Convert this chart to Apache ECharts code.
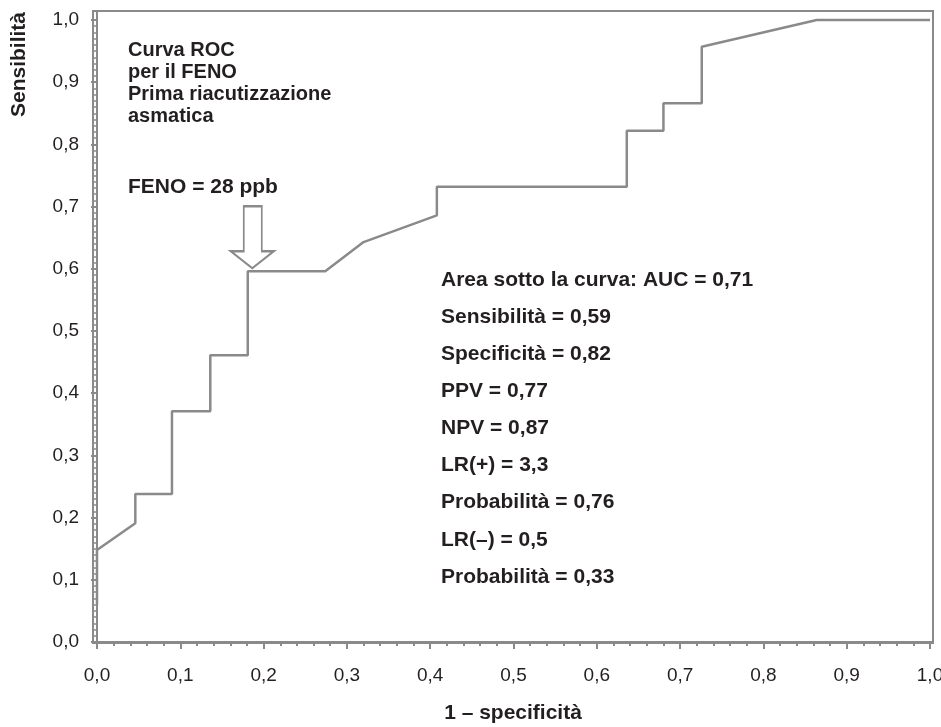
<!DOCTYPE html>
<html>
<head>
<meta charset="utf-8">
<script src="https://cdn.jsdelivr.net/npm/echarts@6/dist/echarts.min.js"></script>
<style>
  html, body { margin: 0; padding: 0; background: #fff; }
  #chart { width: 941px; height: 727px; }
</style>
</head>
<body>
<div id="chart"></div>
<script>
// punti della curva ROC (1 - specificità, sensibilità)
const fprX = [0, 0, 0.046, 0.046, 0.090, 0.090, 0.136, 0.136, 0.181, 0.181, 0.274, 0.320, 0.408, 0.408, 0.636, 0.636, 0.680, 0.680, 0.726, 0.726, 0.864, 1.0];
const tprY = [0.06, 0.148, 0.191, 0.238, 0.238, 0.371, 0.371, 0.461, 0.461, 0.596, 0.596, 0.643, 0.686, 0.732, 0.732, 0.822, 0.822, 0.866, 0.866, 0.957, 1.0, 1.0];

// tick principali
const xTicks = [0, 0.1, 0.2, 0.3, 0.4, 0.5, 0.6, 0.7, 0.8, 0.9, 1.0];
const yTicks = [0, 0.1, 0.2, 0.3, 0.4, 0.5, 0.6, 0.7, 0.8, 0.9, 1.0];

// punto di cut-off indicato dalla freccia
const cutoff = [0.1864, 0.601];

const titleLines = ['Curva ROC', 'per il FENO', 'Prima riacutizzazione', 'asmatica'];
const cutoffLabel = 'FENO = 28 ppb';
const statLines = [
  'Area sotto la curva: AUC = 0,71',
  'Sensibilità = 0,59',
  'Specificità = 0,82',
  'PPV = 0,77',
  'NPV = 0,87',
  'LR(+) = 3,3',
  'Probabilità = 0,76',
  'LR(–) = 0,5',
  'Probabilità = 0,33'
];

const GRAY = '#8a8a8a';
const TEXT = '#231f20';
const FONT = '"Liberation Sans", Arial, sans-serif';

// tick secondari
const xMinor = [];
for (let i = 1; i < 50; i++) if (i % 5) xMinor.push(i / 50);
const yMinor = [];
for (let i = 1; i < 100; i++) if (i % 10) yMinor.push(i / 100);

const fmt = v => v.toFixed(1).replace('.', ',');
const points = fprX.map((x, i) => [x, tprY[i]]);

const chart = echarts.init(document.getElementById('chart'));
chart.setOption({
  animation: false,
  backgroundColor: '#fff',
  grid: {
    left: 93, right: 8, top: 11, bottom: 84,
    show: true, borderColor: GRAY, borderWidth: 2,
    outerBoundsMode: 'none'
  },
  xAxis: [
    {
      type: 'value', position: 'bottom', min: -0.0048, max: 1.0036,
      name: '1 – specificità', nameLocation: 'middle', nameGap: 60,
      nameTextStyle: { fontFamily: FONT, fontWeight: 'bold', fontSize: 21, color: TEXT },
      axisLine: { show: true, lineStyle: { color: GRAY, width: 2 } },
      axisTick: { show: true, customValues: xTicks, length: 7, lineStyle: { color: GRAY, width: 2 } },
      axisLabel: { customValues: xTicks, formatter: fmt, margin: 23, fontFamily: FONT, fontSize: 19, color: TEXT },
      splitLine: { show: false }
    },
    {
      type: 'value', position: 'bottom', min: -0.0048, max: 1.0036,
      axisLine: { show: false },
      axisTick: { show: true, customValues: xMinor, length: 4, lineStyle: { color: GRAY, width: 2 } },
      axisLabel: { show: false },
      splitLine: { show: false }
    }
  ],
  yAxis: [
    {
      type: 'value', position: 'left', min: -0.0016, max: 1.0145,
      axisLine: { show: true, lineStyle: { color: GRAY, width: 2 } },
      axisTick: { show: true, customValues: yTicks, length: 6, lineStyle: { color: GRAY, width: 2 } },
      axisLabel: { customValues: yTicks, formatter: fmt, margin: 14, fontFamily: FONT, fontSize: 19, color: TEXT },
      splitLine: { show: false }
    },
    {
      type: 'value', position: 'left', min: -0.0016, max: 1.0145,
      axisLine: { show: false },
      axisTick: { show: true, customValues: yMinor, length: 4, lineStyle: { color: GRAY, width: 1.5 } },
      axisLabel: { show: false },
      splitLine: { show: false }
    }
  ],
  series: [{
    type: 'line',
    xAxisIndex: 0,
    yAxisIndex: 0,
    data: points,
    showSymbol: false,
    symbol: 'none',
    lineStyle: { color: GRAY, width: 2.5 },
    markPoint: {
      silent: true,
      data: [{
        coord: cutoff,
        symbol: 'path://M13,0 L31,0 L31,45 L43,45 L21.5,62 L0,45 L13,45 Z',
        symbolSize: [43, 62],
        symbolOffset: [0, '-50%'],
        itemStyle: { color: '#fff', borderColor: GRAY, borderWidth: 2 },
        label: { show: false }
      }]
    }
  }],
  graphic: [
    {
      type: 'text', left: 9, top: 12, rotation: Math.PI / 2,
      style: { text: 'Sensibilità', font: 'bold 21px ' + FONT, fill: TEXT }
    },
    {
      type: 'text', x: 128, y: 39,
      style: { text: titleLines.join('\n'), font: 'bold 20px ' + FONT, fill: TEXT, lineHeight: 22 }
    },
    {
      type: 'text', x: 128, y: 177,
      style: { text: cutoffLabel, font: 'bold 21px ' + FONT, fill: TEXT }
    },
    {
      type: 'text', x: 441, y: 261.5,
      style: { text: statLines.join('\n'), font: 'bold 21px ' + FONT, fill: TEXT, lineHeight: 37.1 }
    }
  ]
});
</script>
</body>
</html>
